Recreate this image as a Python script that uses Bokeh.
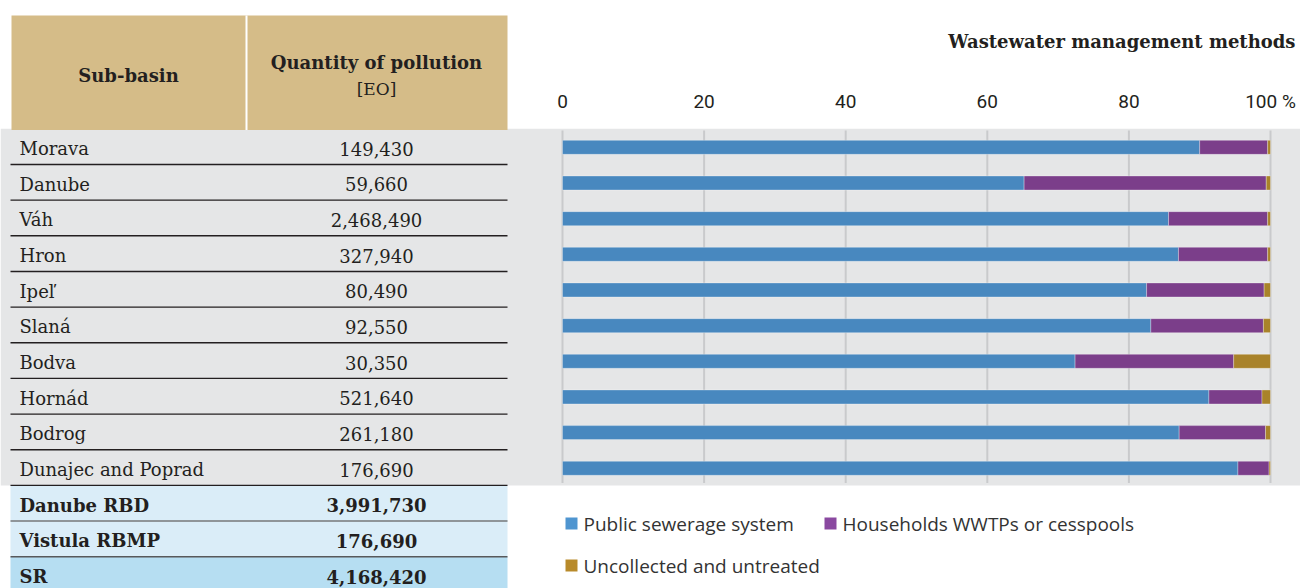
from bokeh.plotting import figure
from bokeh.models import Range1d
from bokeh.core.properties import value
from bokeh.embed import file_html
from bokeh.resources import INLINE

# ---- data -------------------------------------------------------------
subbasins = ["Morava", "Danube", "Váh", "Hron", "Ipeľ", "Slaná", "Bodva",
             "Hornád", "Bodrog", "Dunajec and Poprad"]
pollution = [149430, 59660, 2468490, 327940, 80490, 92550, 30350,
             521640, 261180, 176690]
total_names = ["Danube RBD", "Vistula RBMP", "SR"]
total_values = [3991730, 176690, 4168420]

# shares of each management method, % of pollution per sub-basin
public_sewerage = [90.0, 65.2, 85.6, 87.0, 82.5, 83.1, 72.4, 91.3, 87.1, 95.4]
households_wwtp = [9.6, 34.2, 14.0, 12.6, 16.6, 15.9, 22.4, 7.5, 12.2, 4.4]
uncollected = [0.4, 0.6, 0.4, 0.4, 0.9, 1.0, 5.2, 1.2, 0.7, 0.2]

series_names = ["Public sewerage system", "Households WWTPs or cesspools",
                "Uncollected and untreated"]
tick_values = [0, 20, 40, 60, 80, 100]
tick_labels = ["0", "20", "40", "60", "80", "100 %"]

# ---- styling ----------------------------------------------------------
W, H = 1300, 588
ROW_TOP, ROW_H = 128.3, 35.66          # pixel top of first row, row pitch
X0, X100 = 562.0, 1270.0               # pixel span of 0..100 %
PX_PER_PCT = (X100 - X0) / 100.0

bar_colors = ["#4888bf", "#7b3e8a", "#a9832a"]
swatch_colors = ["#4f95d0", "#8a49a0", "#b88a2a"]
TXT = "#231f20"
GREY_BG = "#e5e6e7"
TAN = "#d5bc88"
LIGHT_BLUE = "#daedf8"
SR_BLUE = "#b6def2"
SERIF = value("DejaVu Serif")
BODY_SIZE = "18px"

p = figure(width=W, height=H, x_range=Range1d(0, W), y_range=Range1d(H, 0),
           output_backend="svg", toolbar_location=None,
           x_axis_location=None, y_axis_location=None,
           min_border=0, outline_line_color=None,
           background_fill_color="white", border_fill_color="white")
p.grid.grid_line_color = None

# percentage scale for the bars and a row-index scale for the table rows
p.extra_x_ranges = {"pct": Range1d(-X0 / PX_PER_PCT, (W - X0) / PX_PER_PCT)}
p.extra_y_ranges = {"row": Range1d((H - ROW_TOP) / ROW_H, -ROW_TOP / ROW_H)}

n = len(subbasins)
rows = list(range(n))
total_rows = [n + k for k in range(len(total_names))]

# grey band behind the sub-basin rows, across the whole page
p.quad(left=[0], right=[W], top=[0], bottom=[n], y_range_name="row",
       fill_color=GREY_BG, line_color=None)

# total rows
p.quad(left=[10] * 3, right=[507] * 3,
       top=total_rows, bottom=[r + 1 for r in total_rows],
       y_range_name="row",
       fill_color=[LIGHT_BLUE, LIGHT_BLUE, SR_BLUE], line_color=None)

# table header
p.quad(left=[11], right=[507], top=[15], bottom=[129.5],
       fill_color=TAN, line_color=None)
p.segment(x0=[246], x1=[246], y0=[15], y1=[129.5],
          line_color="white", line_width=2)
p.text(x=[128], y=[75], text=["Sub-basin"], text_font=SERIF,
       text_font_style="bold", text_font_size="18px", text_color=TXT,
       text_align="center", text_baseline="middle")
p.text(x=[376], y=[62], text=["Quantity of pollution"], text_font=SERIF,
       text_font_style="bold", text_font_size="18px", text_color=TXT,
       text_align="center", text_baseline="middle")
p.text(x=[376], y=[88], text=["[EO]"], text_font=SERIF,
       text_font_size="17px", text_color=TXT,
       text_align="center", text_baseline="middle")

# row separators
sep_rows = list(range(1, n + len(total_names)))
sep_colors = [TXT] * n + ["#76777a", "#58595b"]
p.segment(x0=[10] * len(sep_rows), x1=[507] * len(sep_rows),
          y0=sep_rows, y1=sep_rows, y_range_name="row",
          line_color=sep_colors, line_width=1.4)

# table text
p.text(x=[19] * n, y=[r + 0.5 for r in rows], text=subbasins,
       y_range_name="row", text_font=SERIF, text_font_size=BODY_SIZE,
       text_color=TXT, text_baseline="middle", y_offset=2)
p.text(x=[376] * n, y=[r + 0.5 for r in rows],
       text=[f"{v:,}" for v in pollution],
       y_range_name="row", text_font=SERIF, text_font_size=BODY_SIZE,
       text_color=TXT, text_align="center", text_baseline="middle", y_offset=2)
p.text(x=[19] * 3, y=[r + 0.5 for r in total_rows], text=total_names,
       y_range_name="row", text_font=SERIF, text_font_style="bold",
       text_font_size=BODY_SIZE, text_color=TXT, text_baseline="middle",
       y_offset=2)
p.text(x=[376] * 3, y=[r + 0.5 for r in total_rows],
       text=[f"{v:,}" for v in total_values],
       y_range_name="row", text_font=SERIF, text_font_style="bold",
       text_font_size=BODY_SIZE, text_color=TXT, text_align="center",
       text_baseline="middle", y_offset=2)

# vertical grid of the bar chart
p.segment(x0=tick_values, x1=tick_values, y0=[0.05] * 6, y1=[n - 0.07] * 6,
          x_range_name="pct", y_range_name="row",
          line_color="#c9cacc", line_width=2)

# axis labels above the bars
p.text(x=tick_values, y=[101] * 6, text=tick_labels, x_range_name="pct",
       text_font=value("Roboto"), text_font_size="19px", text_color=TXT,
       text_align="center", text_baseline="middle")

# chart title
p.text(x=[1295], y=[41], text=["Wastewater management methods"],
       text_font=SERIF, text_font_style="bold", text_font_size="18px",
       text_color=TXT, text_align="right", text_baseline="middle")

# stacked bars
bar_y = [r + 0.52 for r in rows]
bar_h = 14 / ROW_H
left = [0.0] * n
for values, color in zip([public_sewerage, households_wwtp, uncollected],
                         bar_colors):
    right = [a + b for a, b in zip(left, values)]
    p.hbar(y=bar_y, left=left, right=right, height=bar_h,
           x_range_name="pct", y_range_name="row",
           fill_color=color, line_color="white", line_alpha=0.3,
           line_width=1)
    left = right

# legend
sw_x = [571, 830, 571]
sw_y = [523, 523, 565]
p.scatter(x=sw_x, y=sw_y, marker="square", size=12,
          fill_color=swatch_colors, line_color=None)
p.text(x=[x + 12 for x in sw_x], y=sw_y, text=series_names,
       text_font=value("Open Sans"), text_font_size="19px",
       text_color="#333333", text_baseline="middle")

open("out.html", "w").write(file_html(p, INLINE))
